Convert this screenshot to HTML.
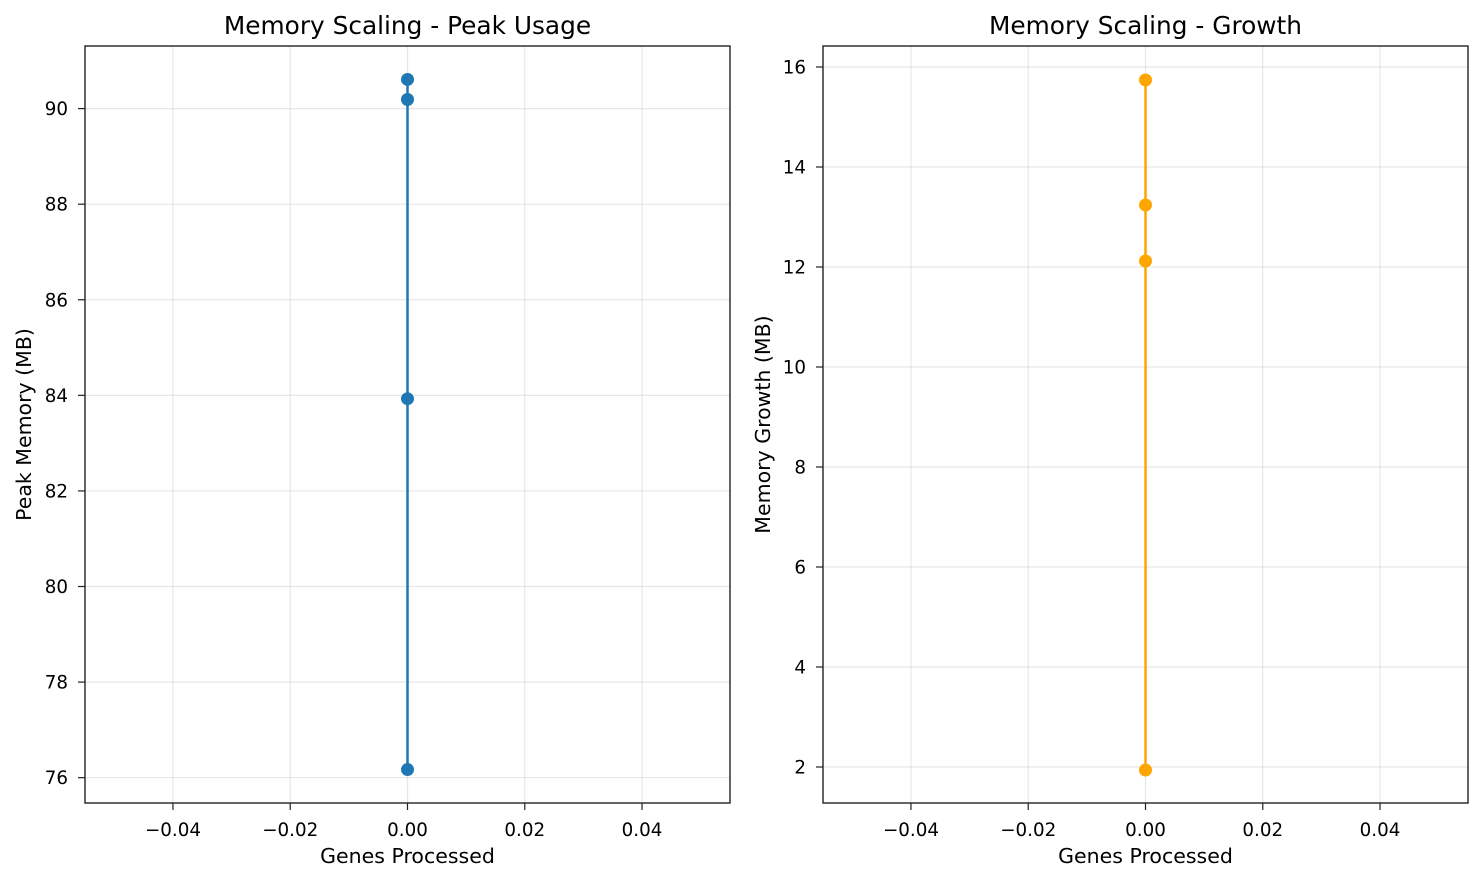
<!DOCTYPE html>
<html><head><meta charset="utf-8"><style>
body{margin:0;background:#fff;font-family:"DejaVu Sans","Liberation Sans",sans-serif;}
</style></head><body>
<svg id="c" width="1484" height="882" xmlns="http://www.w3.org/2000/svg" font-family="DejaVu Sans, Liberation Sans, sans-serif"></svg>
<script>
const xTicks=[-0.04,-0.02,0.00,0.02,0.04];
const xTickLabels=["−0.04","−0.02","0.00","0.02","0.04"];
const peakX=[0,0,0,0];
const peakY=[76.17,83.93,90.19,90.61];
const peakTicks=[76,78,80,82,84,86,88,90];
const growthX=[0,0,0,0];
const growthY=[1.94,12.12,13.24,15.74];
const growthTicks=[2,4,6,8,10,12,14,16];
const NS="http://www.w3.org/2000/svg";
const svg=document.getElementById('c');
function mk(tag,attrs,parent){const e=document.createElementNS(NS,tag);for(const k in attrs)e.setAttribute(k,attrs[k]);(parent||svg).appendChild(e);return e;}
function panel(o){
  const g=mk('g',{});
  
  
  const xs=v=>o.x0+(v-o.xmin)/(o.xmax-o.xmin)*(o.x1-o.x0);
  const ys=v=>o.y1-(v-o.ymin)/(o.ymax-o.ymin)*(o.y1-o.y0);
  xTicks.forEach((t,i)=>{const x=xs(t);
    const gl=mk('line',{x1:x,x2:x,y1:o.y0,y2:o.y1,stroke:'#b0b0b0','stroke-opacity':0.3,'stroke-width':1.2},g);
    
    mk('line',{x1:x,x2:x,y1:o.y1,y2:o.y1+7,stroke:'#222','stroke-width':1.2},g);
    const tx=mk('text',{x:x,y:o.y1+33,'text-anchor':'middle','font-size':18.3},g);tx.textContent=xTickLabels[i];
    
  });
  o.ticks.forEach(t=>{const y=ys(t);
    const gl=mk('line',{x1:o.x0,x2:o.x1,y1:y,y2:y,stroke:'#b0b0b0','stroke-opacity':0.3,'stroke-width':1.2},g);
    
    mk('line',{x1:o.x0-7,x2:o.x0,y1:y,y2:y,stroke:'#222','stroke-width':1.2},g);
    const tx=mk('text',{x:o.x0-17,y:y+6.5,'text-anchor':'end','font-size':18.3},g);tx.textContent=String(t);
    
  });
  const pts=o.X.map((v,i)=>xs(v)+','+ys(o.Y[i])).join(' ');
  const pl=mk('polyline',{points:pts,fill:'none',stroke:o.color,'stroke-width':2.5},g);
  
  o.X.forEach((v,i)=>{const c=mk('circle',{cx:xs(v),cy:ys(o.Y[i]),r:6.5,fill:o.color},g);
    });
  const fr=mk('rect',{x:o.x0,y:o.y0,width:o.x1-o.x0,height:o.y1-o.y0,fill:'none',stroke:'#222','stroke-width':1.4},g);
  
  const ti=mk('text',{x:(o.x0+o.x1)/2,y:34,'text-anchor':'middle','font-size':24.8},g);ti.textContent=o.title;
  
  const xl=mk('text',{x:(o.x0+o.x1)/2,y:863,'text-anchor':'middle','font-size':20.5},g);xl.textContent='Genes Processed';
  
  const cy=(o.y0+o.y1)/2;
  const yl=mk('text',{x:o.ylx,y:cy,'text-anchor':'middle','font-size':20.5,transform:`rotate(-90 ${o.ylx} ${cy})`},g);yl.textContent=o.ylabel;
  
}
panel({name:'peak-usage-panel',x0:85,x1:730,y0:46,y1:803,xmin:-0.055,xmax:0.055,ymin:75.47,ymax:91.31,ticks:peakTicks,X:peakX,Y:peakY,color:'#1f77b4',title:'Memory Scaling - Peak Usage',ylabel:'Peak Memory (MB)',ylx:31});
panel({name:'growth-panel',x0:823,x1:1468,y0:46,y1:803,xmin:-0.055,xmax:0.055,ymin:1.28,ymax:16.42,ticks:growthTicks,X:growthX,Y:growthY,color:'#ffa500',title:'Memory Scaling - Growth',ylabel:'Memory Growth (MB)',ylx:770});
</script>
</body></html>
